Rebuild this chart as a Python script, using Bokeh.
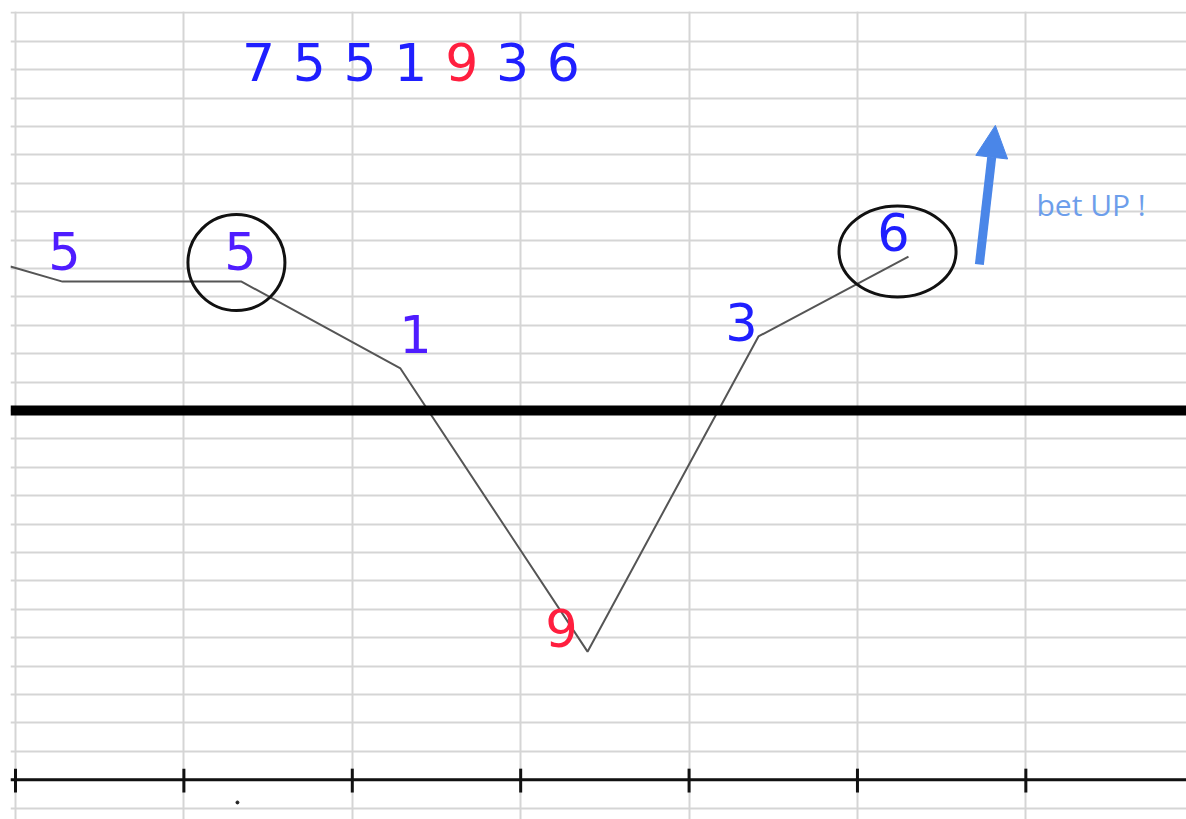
from bokeh.plotting import figure
from bokeh.models import Range1d, Grid, FixedTicker, Span, Arrow, NormalHead, ColumnDataSource
from bokeh.core.properties import value
from bokeh.embed import file_html
from bokeh.resources import INLINE

# ---- data (x in grid columns, y in grid rows relative to the thick centre line) ----
# zig-zag path drawn through the sequence
path_x = [-0.03, 0.279, 1.342, 2.286, 3.397, 4.412, 5.303]
path_y = [5.07, 4.54, 4.54, 1.48, -8.49, 2.61, 5.42]

# digit labels along the path
label_text = ["5", "5", "1", "9", "3", "6"]
label_x = [0.291, 1.336, 2.375, 3.242, 4.311, 5.214]
label_y = [5.61, 5.61, 2.69, -7.66, 3.11, 6.28]
label_color = ["#4f1cff", "#4f1cff", "#4f1cff", "#ff1f3f", "#1f1fff", "#1f1fff"]

# sequence written at the top
top_digits = ["7", "5", "5", "1", "9", "3", "6"]
top_colors = ["#1f1fff", "#1f1fff", "#1f1fff", "#1f1fff", "#ff1f3f", "#1f1fff", "#1f1fff"]

# circled points
circle_x = [1.312, 5.238]
circle_y = [5.21, 5.60]
circle_w = [0.576, 0.695]
circle_h = [3.38, 3.20]

# axis ticks
tick_cols = [0, 1, 2, 3, 4, 5, 6]

W, H = 1186, 819

p = figure(width=W, height=H, output_backend="svg", toolbar_location=None,
           x_axis_location=None, y_axis_location=None,
           x_range=Range1d(-0.0297, 6.954), y_range=Range1d(-14.40, 14.05),
           min_border_left=10, min_border_top=11, min_border_right=0, min_border_bottom=0,
           background_fill_color="white", border_fill_color="white")
p.outline_line_color = None

grid_color = "#d5d5d5"
p.add_layout(Grid(dimension=0, ticker=FixedTicker(ticks=tick_cols),
                  grid_line_color=grid_color, grid_line_width=2))
p.add_layout(Grid(dimension=1, ticker=FixedTicker(ticks=list(range(-14, 15))),
                  grid_line_color=grid_color, grid_line_width=2))

# thick centre line
p.add_layout(Span(location=0, dimension="width", line_color="black", line_width=10))
# bottom time axis with ticks
p.add_layout(Span(location=-13, dimension="width", line_color="#111111", line_width=3))
p.segment(x0=tick_cols, y0=[-12.61] * len(tick_cols), x1=tick_cols, y1=[-13.45] * len(tick_cols),
          line_color="#111111", line_width=3)
p.scatter(x=[1.318], y=[-13.8], size=3, color="#222222")

# zig-zag path
p.line(path_x, path_y, line_color="#555555", line_width=2)

# circles
p.ellipse(x=circle_x, y=circle_y, width=circle_w, height=circle_h,
          fill_color=None, line_color="#111111", line_width=3)

# labels along the path
src = ColumnDataSource(dict(x=label_x, y=label_y, t=label_text, c=label_color))
p.text(x="x", y="y", text="t", text_color="c", source=src,
       text_font=value("DejaVu Sans"), text_font_size="51px",
       text_align="center", text_baseline="alphabetic")

# top sequence
top_x = [1.443 + 0.3017 * i for i in range(len(top_digits))]
src2 = ColumnDataSource(dict(x=top_x, y=[12.28] * len(top_digits), t=top_digits, c=top_colors))
p.text(x="x", y="y", text="t", text_color="c", source=src2,
       text_font=value("DejaVu Sans"), text_font_size="52px",
       text_align="center", text_baseline="alphabetic")

# arrow + note
arrow_color = "#4a86e8"
p.add_layout(Arrow(end=NormalHead(size=32, fill_color=arrow_color, line_color=arrow_color),
                   x_start=5.724, y_start=5.14, x_end=5.819, y_end=10.04,
                   line_color=arrow_color, line_width=9))
p.text(x=[6.063], y=[7.25], text=["bet UP !"], text_color="#6d9eeb",
       text_font=value("Open Sans"), text_font_size="30px",
       text_align="left", text_baseline="alphabetic")

open("out.html", "w").write(file_html(p, INLINE))
